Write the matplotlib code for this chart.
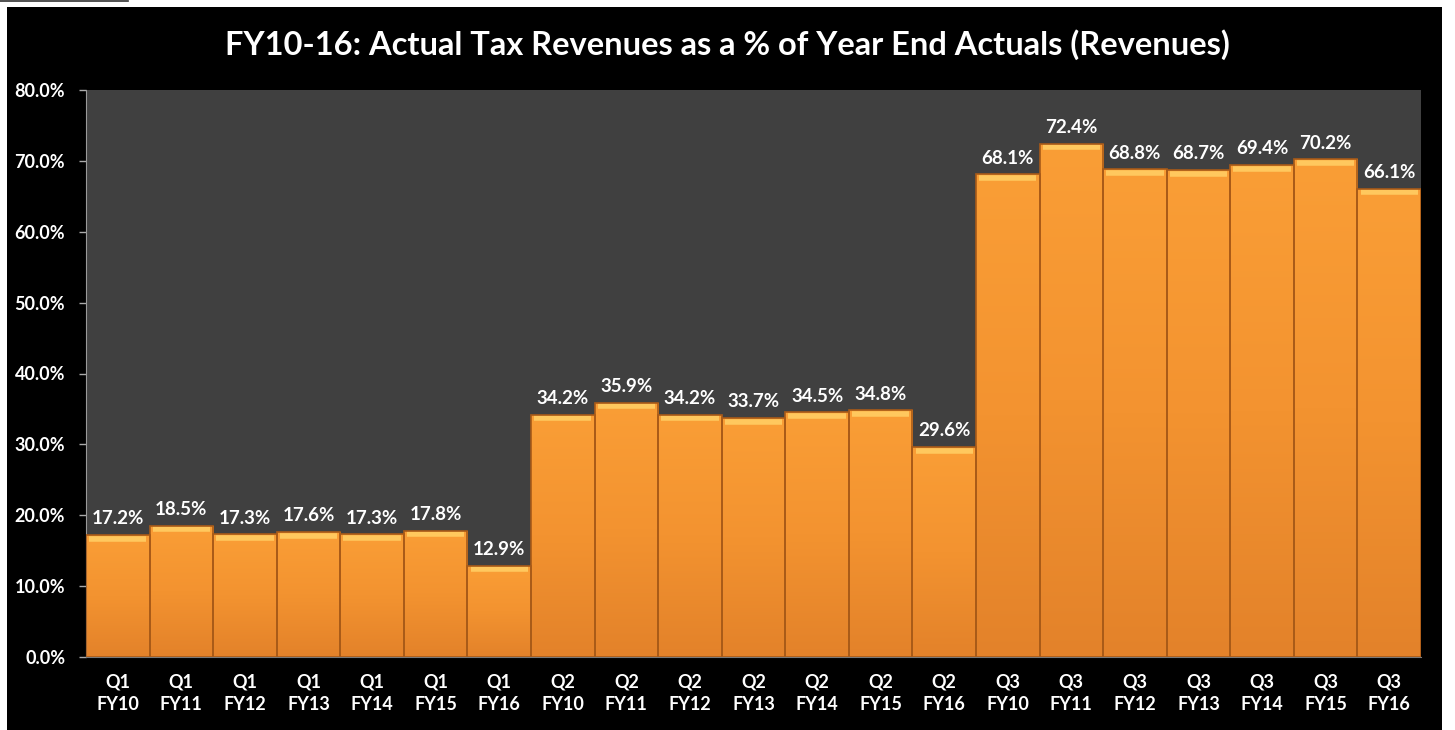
import matplotlib.pyplot as plt
import numpy as np
from matplotlib.colors import LinearSegmentedColormap
from matplotlib.patches import Rectangle

# Dados do gráfico
quarters = ['Q1'] * 7 + ['Q2'] * 7 + ['Q3'] * 7
fiscal_years = ['FY10', 'FY11', 'FY12', 'FY13', 'FY14', 'FY15', 'FY16'] * 3
values = [17.2, 18.5, 17.3, 17.6, 17.3, 17.8, 12.9,
          34.2, 35.9, 34.2, 33.7, 34.5, 34.8, 29.6,
          68.1, 72.4, 68.8, 68.7, 69.4, 70.2, 66.1]
y_ticks = [0, 10, 20, 30, 40, 50, 60, 70, 80]
title = 'FY10-16: Actual Tax Revenues as a % of Year End Actuals (Revenues)'

plt.rcParams['font.family'] = ['Lato', 'DejaVu Sans']

fig = plt.figure(figsize=(14.55, 7.30), dpi=100)
fig.patch.set_facecolor('white')
# moldura preta
fig.add_artist(Rectangle((7 / 1455, 0), 1435 / 1455, 1 - 7 / 730,
                         transform=fig.transFigure, facecolor='black',
                         edgecolor='none', zorder=-10))
fig.add_artist(plt.Line2D([0, 128 / 1455], [1 - 1 / 730, 1 - 1 / 730],
                          transform=fig.transFigure, color='#333333', lw=1.2))

ax = fig.add_axes([86 / 1455, 73 / 730, 1335 / 1455, 567 / 730])
ax.set_facecolor('#404040')

x = np.arange(len(values))
bars = ax.bar(x, values, width=1.0, color='#F7962F', edgecolor='none', zorder=2)

# gradiente laranja dentro de cada barra
cmap = LinearSegmentedColormap.from_list('laranja', ['#E3822A', '#F39330', '#FA9E36'])
grad = np.linspace(0, 1, 256).reshape(-1, 1)
for bar in bars:
    x0, w, h = bar.get_x(), bar.get_width(), bar.get_height()
    im = ax.imshow(grad, cmap=cmap, origin='lower', aspect='auto',
                   extent=[x0, x0 + w, 0, h], zorder=2.5)
    im.set_clip_path(bar)
    # borda superior clara (chanfro)
    ax.plot([x0 + 0.05, x0 + w - 0.05], [h - 0.5, h - 0.5],
            color='#FFC85E', lw=4, solid_capstyle='butt', zorder=3)
    ax.text(x0 + w / 2, h + 1.1, f'{h:.1f}%', ha='center', va='bottom',
            color='white', fontsize=13.5, fontweight='bold', zorder=4)

# contorno das barras por cima do gradiente
ax.bar(x, values, width=1.0, fill=False, edgecolor='#A85A18', linewidth=1.2, zorder=3.5)

ax.set_xlim(-0.5, len(values) - 0.5)
ax.set_ylim(0, 80)
ax.set_yticks(y_ticks)
ax.set_yticklabels([f'{v:.1f}%' for v in y_ticks], color='white',
                   fontsize=13, fontweight='bold')
ax.set_xticks(x)
ax.set_xticklabels([f'{q}\n{fy}' for q, fy in zip(quarters, fiscal_years)],
                   color='white', fontsize=13, fontweight='bold', linespacing=1.35)
ax.tick_params(axis='y', colors='#AAAAAA', length=5, width=1, pad=10, labelcolor='white')
ax.tick_params(axis='x', length=0, pad=12, labelcolor='white')
for side in ['top', 'right']:
    ax.spines[side].set_visible(False)
ax.spines['left'].set_color('#9A9A9A')
ax.spines['bottom'].set_color('#7A7A7A')

fig.text(0.5, 1 - 45 / 730, title, ha='center', va='center', color='white',
         fontsize=23.5, fontweight='bold')

plt.savefig('out.png', dpi=100, facecolor=fig.get_facecolor())
